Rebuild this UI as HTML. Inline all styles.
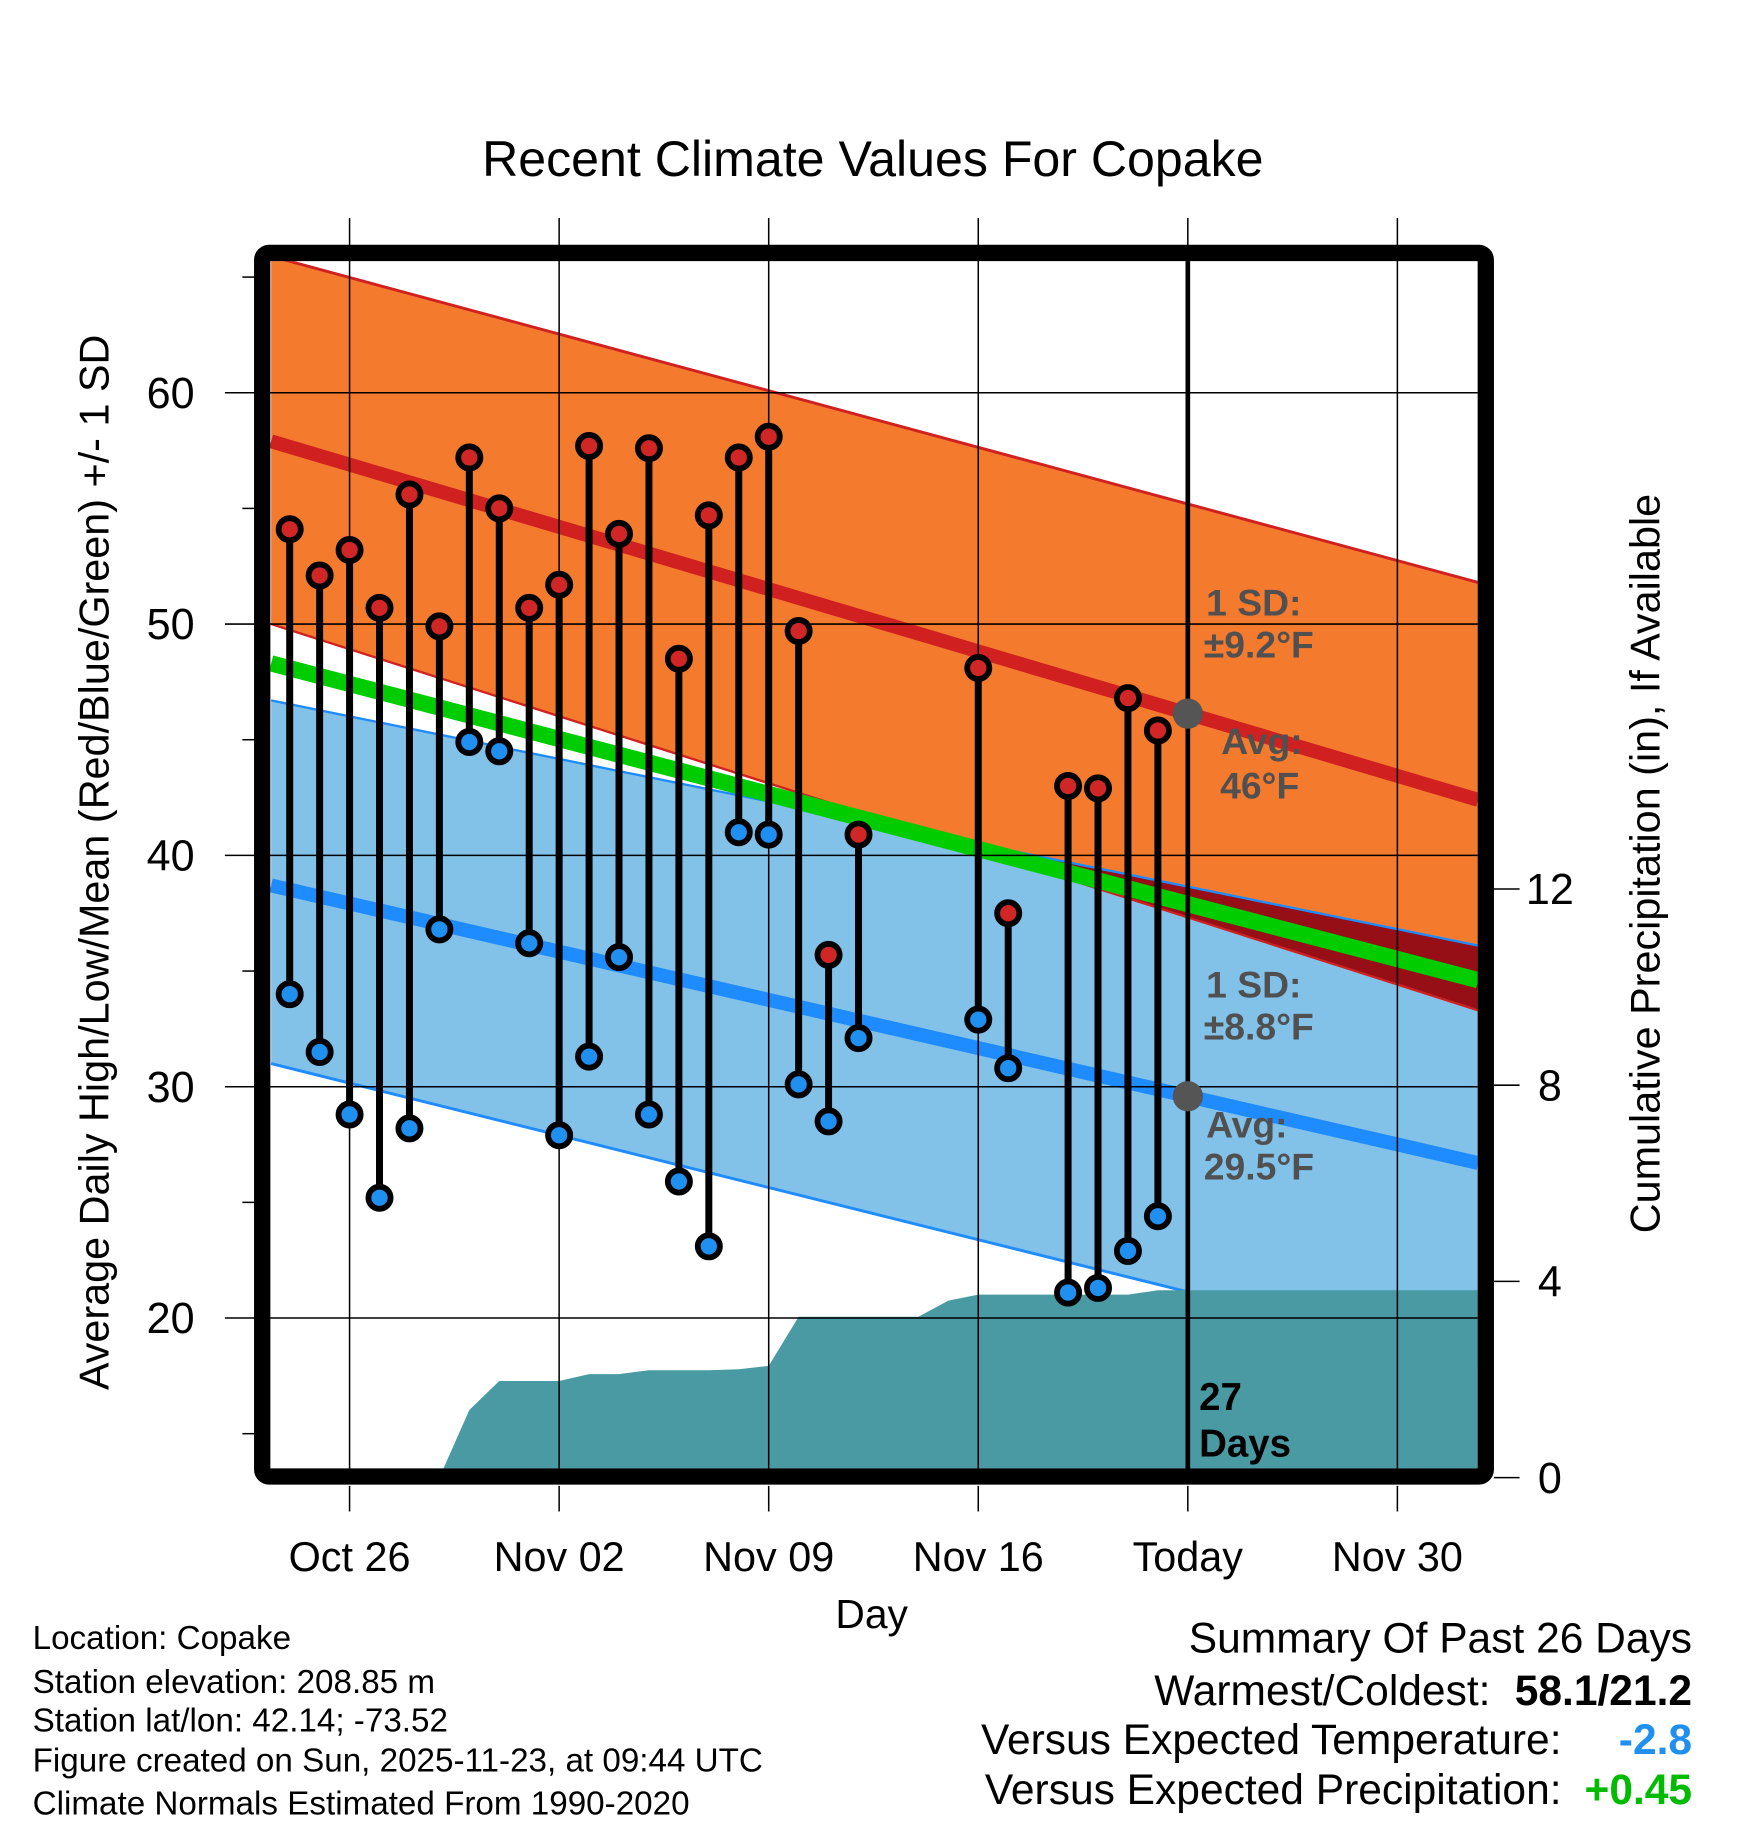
<!DOCTYPE html>
<html><head><meta charset="utf-8"><style>
html,body{margin:0;padding:0;background:#fff}
svg{display:block;font-family:"Liberation Sans",sans-serif}
</style></head><body>
<svg id="chart" width="1748" height="1828" viewBox="0 0 1500 1568.6" xmlns="http://www.w3.org/2000/svg">
<defs><clipPath id="plotclip"><rect x="232" y="224" width="1036" height="1036"/></clipPath></defs>
<text x="749" y="151" font-size="43" text-anchor="middle">Recent Climate Values For Copake</text>
<g id="plot" clip-path="url(#plotclip)"></g>
<g id="over"></g>
<text transform="translate(93,740) rotate(-90)" font-size="35.5" text-anchor="middle">Average Daily High/Low/Mean (Red/Blue/Green) +/- 1 SD</text>
<text transform="translate(1424,741) rotate(-90)" font-size="35.5" text-anchor="middle">Cumulative Precipitation (in), If Available</text>
<text x="748" y="1397" font-size="35" text-anchor="middle">Day</text>
<g font-size="28.5">
<text x="28" y="1415">Location: Copake</text>
<text x="28" y="1453">Station elevation: 208.85 m</text>
<text x="28" y="1486">Station lat/lon: 42.14; -73.52</text>
<text x="28" y="1520">Figure created on Sun, 2025-11-23, at 09:44 UTC</text>
<text x="28" y="1557">Climate Normals Estimated From 1990-2020</text>
</g>
<g font-size="36.5">
<text x="1452" y="1418" text-anchor="end">Summary Of Past 26 Days</text>
<text x="1279" y="1463" text-anchor="end">Warmest/Coldest:</text>
<text x="1452" y="1463" text-anchor="end" font-weight="bold">58.1/21.2</text>
<text x="1340" y="1505" text-anchor="end">Versus Expected Temperature:</text>
<text x="1452" y="1505" text-anchor="end" font-weight="bold" fill="#2090f0">-2.8</text>
<text x="1340" y="1548" text-anchor="end">Versus Expected Precipitation:</text>
<text x="1452" y="1548" text-anchor="end" font-weight="bold" fill="#00bb00">+0.45</text>
</g>
</svg>
<script>
// data (day 0 = Oct 24)
const dayIdx = [0,1,2,3,4,5,6,7,8,9,10,11,12,13,14,15,16,17,18,19,23,24,26,27,28,29];
const highs = [54.1,52.1,53.2,50.7,55.6,49.9,57.2,55.0,50.7,51.7,57.7,53.9,57.6,48.5,54.7,57.2,58.1,49.7,35.7,40.9,48.1,37.5,43.0,42.9,46.8,45.4];
const lows = [34.0,31.5,28.8,25.2,28.2,36.8,44.9,44.5,36.2,27.9,31.3,35.6,28.8,25.9,23.1,41.0,40.9,30.1,28.5,32.1,32.9,30.8,21.1,21.3,22.9,24.4];
const precipDays = [5,6,7,8,9,10,11,12,13,14,15,16,17,18,19,20,21,22,23,24,25,26,27,28,29,30];
const precip = [0,1.38,1.97,1.97,1.97,2.11,2.11,2.19,2.19,2.19,2.21,2.28,3.28,3.28,3.28,3.28,3.28,3.61,3.73,3.73,3.73,3.73,3.73,3.73,3.82,3.82];
const normEnds = [-0.62, 39.7];
const highUpper = [65.9, 51.8];
const highAvg = [57.9, 42.4];
const highLower = [50.0, 33.3];
const lowUpper = [46.7, 36.1];
const lowAvg = [38.7, 26.7];
const lowLower = [31.0, 18.0];
const meanAvg = [48.3, 34.6];
const xTickDays = [2,9,16,23,30,37];
const xTickLabels = ["Oct 26","Nov 02","Nov 09","Nov 16","Today","Nov 30"];
const yTicks = [20,30,40,50,60];
const yMinor = [15,25,35,45,55,65];
const pTicks = [0,4,8,12];

const NS="http://www.w3.org/2000/svg";
const X = d => 248.6 + d*25.69;
const Y = v => 337 + (60 - v)*19.85;
const P = v => 1268 - v*42.1;
const plot=document.getElementById('plot'), over=document.getElementById('over');
function el(parent,tag,attrs){const e=document.createElementNS(NS,tag);for(const k in attrs)e.setAttribute(k,attrs[k]);parent.appendChild(e);return e;}
const x0=X(normEnds[0]), x1=X(normEnds[1]);
function band(up,lo,fill,name){
  const e=el(plot,'polygon',{points:`${x0},${Y(up[0])} ${x1},${Y(up[1])} ${x1},${Y(lo[1])} ${x0},${Y(lo[0])}`,fill:fill});
  
  
}
function line(a,col,w,name){
  const e=el(plot,'line',{x1:x0,y1:Y(a[0]),x2:x1,y2:Y(a[1]),stroke:col,'stroke-width':w});
  
  
}
band(highUpper,highLower,'#f47a2e','high-sd-band');
band(lowUpper,lowLower,'#82c1e8','low-sd-band');
const dl0=highLower[0]-lowUpper[0], dl1=highLower[1]-lowUpper[1];
const t=dl0/(dl0-dl1), xc=x0+t*(x1-x0), yc=Y(highLower[0]+t*(highLower[1]-highLower[0]));
const ov=el(plot,'polygon',{points:`${xc},${yc} ${x1},${Y(lowUpper[1])} ${x1},${Y(highLower[1])}`,fill:'#960f16'});


line(highUpper,'#d02020',2.5,'high-upper-line');
line(highLower,'#d02020',2,'high-lower-line');
line(lowUpper,'#1e8cff',2,'low-upper-line');
line(lowLower,'#1e8cff',2.5,'low-lower-line');
line(highAvg,'#d02020',12,'avg-high-line');
line(lowAvg,'#1e8cff',12,'avg-low-line');
line(meanAvg,'#00cc00',14,'avg-mean-line');
let pp=`${X(precipDays[0])},${P(0)} `;
precipDays.forEach((d,i)=>{pp+=`${X(d)},${P(precip[i])} `;});
pp+=`1270,${P(precip[precip.length-1])} 1270,1270 ${X(precipDays[0])},1270`;
const pa=el(plot,'polygon',{points:pp,fill:'#4a9aa4'});


xTickDays.forEach((d,i)=>{
  const g=el(over,'line',{x1:X(d),y1:187,x2:X(d),y2:1260,stroke:'#000','stroke-width':1.3});
  
  
  el(over,'line',{x1:X(d),y1:1275,x2:X(d),y2:1297,stroke:'#000','stroke-width':1.3});
  const tx=el(over,'text',{x:X(d),y:1348,'font-size':35.5,'text-anchor':'middle'});
  tx.textContent=xTickLabels[i];
  
  
});
yTicks.forEach(v=>{
  const g=el(over,'line',{x1:193,y1:Y(v),x2:1268,y2:Y(v),stroke:'#000','stroke-width':1.3});
  
  
  const tx=el(over,'text',{x:167,y:Y(v)+13,'font-size':37,'text-anchor':'end'});
  tx.textContent=v;
  
  
});
yMinor.forEach(v=>{el(over,'line',{x1:208,y1:Y(v),x2:220,y2:Y(v),stroke:'#000','stroke-width':1.3});});
pTicks.forEach(v=>{
  el(over,'line',{x1:1282,y1:P(v),x2:1304,y2:P(v),stroke:'#000','stroke-width':1.3});
  const tx=el(over,'text',{x:1330,y:P(v)+13,'font-size':37,'text-anchor':'middle'});
  tx.textContent=v;
  
  
});
const tl=el(over,'line',{x1:X(30),y1:224,x2:X(30),y2:1262,stroke:'#000','stroke-width':4});


dayIdx.forEach((d,i)=>{
  const s=el(over,'line',{x1:X(d),y1:Y(highs[i]),x2:X(d),y2:Y(lows[i]),stroke:'#000','stroke-width':6});
  
  
  const h=el(over,'circle',{cx:X(d),cy:Y(highs[i]),r:9.5,fill:'#d02626',stroke:'#000','stroke-width':5});
  
  
  const l=el(over,'circle',{cx:X(d),cy:Y(lows[i]),r:9.5,fill:'#2090f0',stroke:'#000','stroke-width':5});
  
  
});
const th=(highAvg[0]+(highAvg[1]-highAvg[0])*(X(30)-x0)/(x1-x0));
const tlw=(lowAvg[0]+(lowAvg[1]-lowAvg[0])*(X(30)-x0)/(x1-x0));
const m1=el(over,'circle',{cx:X(30),cy:Y(th),r:13,fill:'#555'});


const m2=el(over,'circle',{cx:X(30),cy:Y(tlw),r:13,fill:'#555'});


[["1 SD:",1035,528],["±9.2°F",1033,564],["Avg:",1048,647],["46°F",1047,685],["1 SD:",1035,856],["±8.8°F",1033,892],["Avg:",1035,976],["29.5°F",1033,1012]].forEach(a=>{
  const tx=el(over,'text',{x:a[1],y:a[2],'font-size':32,'font-weight':'bold',fill:'#505050'});
  tx.textContent=a[0];
  
  
});
[["27",1029,1210],["Days",1029,1250]].forEach(a=>{
  const tx=el(over,'text',{x:a[1],y:a[2],'font-size':33,'font-weight':'bold',fill:'#000'});
  tx.textContent=a[0];
  
  
});
const fr=el(over,'rect',{x:225,y:217,width:1050,height:1050,rx:6,fill:'none',stroke:'#000','stroke-width':14});


</script>
</body></html>
